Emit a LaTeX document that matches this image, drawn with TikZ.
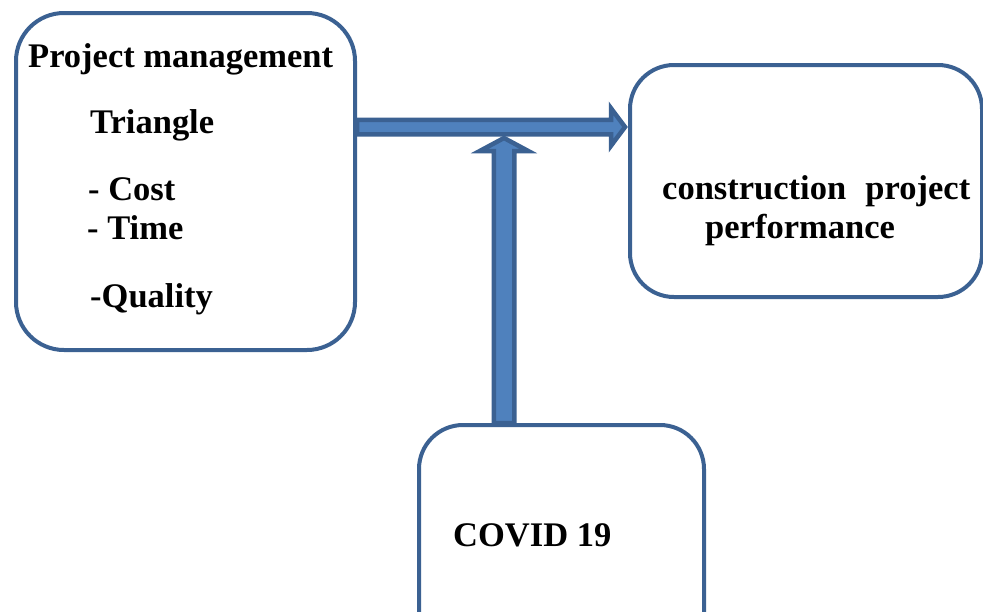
\documentclass[tikz,border=0pt]{standalone}
\usepackage{fontspec}
\setmainfont{Liberation Serif}
\usepackage{xcolor}
\usetikzlibrary{calc}

\definecolor{arrowfill}{HTML}{4F81BD}
\definecolor{darkblue}{HTML}{3B6192}

\begin{document}
\begin{tikzpicture}[x=1pt,y=-1pt]

\tikzset{
    box/.style = {
    draw=darkblue,
    line width=4pt,
    rounded corners=48pt,
    fill=white,
    inner sep=0pt
    }
}

\tikzstyle{label}=[anchor=base west, inner sep=0pt, font=\fontsize{34.5}{40}\selectfont\bfseries]
\tikzstyle{blockarrow}=[draw=darkblue, fill=arrowfill, line width=4.5pt, line join=miter]

\useasboundingbox (0,0) rectangle (983,611);
\clip (0,0) rectangle (983,611);

\node (box-pm) [box, minimum width=339pt, minimum height=337pt] at (185.5,181.5) {};
\node (box-perf) [box, minimum width=352pt, minimum height=232pt, rounded corners=44pt] at (806,181) {};
\node (box-covid) [box, minimum width=285pt, minimum height=300pt, rounded corners=44pt] at (561.5,575) {};

\node (t-pm) [label] at (28,67) {Project management};
\node (t-tri) [label] at (90,133) {Triangle};
\node (t-cost) [label] at (88,200) {- Cost};
\node (t-time) [label] at (87,239) {- Time};
\node (t-qual) [label] at (90,307) {-Quality};

\node (t-cons) [label] at (662,199) {construction\hspace{0.56em}project};
\node (t-perf) [label] at (705,238) {performance};

\node (t-covid) [label] at (453,546) {COVID 19};

\coordinate (h-start) at (box-pm.east |- 0,127);
\coordinate (h-end) at (box-perf.west |- 0,127);
\coordinate (v-start) at (box-covid.north -| 504,0);
\coordinate (v-end) at (504,138);

\draw[blockarrow] let \p1=(h-start), \p2=(h-end) in
    (\x1,\y1+7.25pt) -- (\x2-17pt,\y1+7.25pt) -- (\x2-17pt,\y1+18.75pt) -- (\x2-3pt,\y1)
    -- (\x2-17pt,\y1-18.75pt) -- (\x2-17pt,\y1-7.25pt) -- (\x1,\y1-7.25pt) -- cycle;

\draw[blockarrow] let \p1=(v-start), \p2=(v-end) in
    (\x1-10.25pt,\y1) -- (\x1-10.25pt,\y2-13pt) -- (\x1-24.25pt,\y2-13pt) -- (\x1,\y2)
    -- (\x1+24.25pt,\y2-13pt) -- (\x1+10.25pt,\y2-13pt) -- (\x1+10.25pt,\y1) -- cycle;

\end{tikzpicture}
\end{document}
